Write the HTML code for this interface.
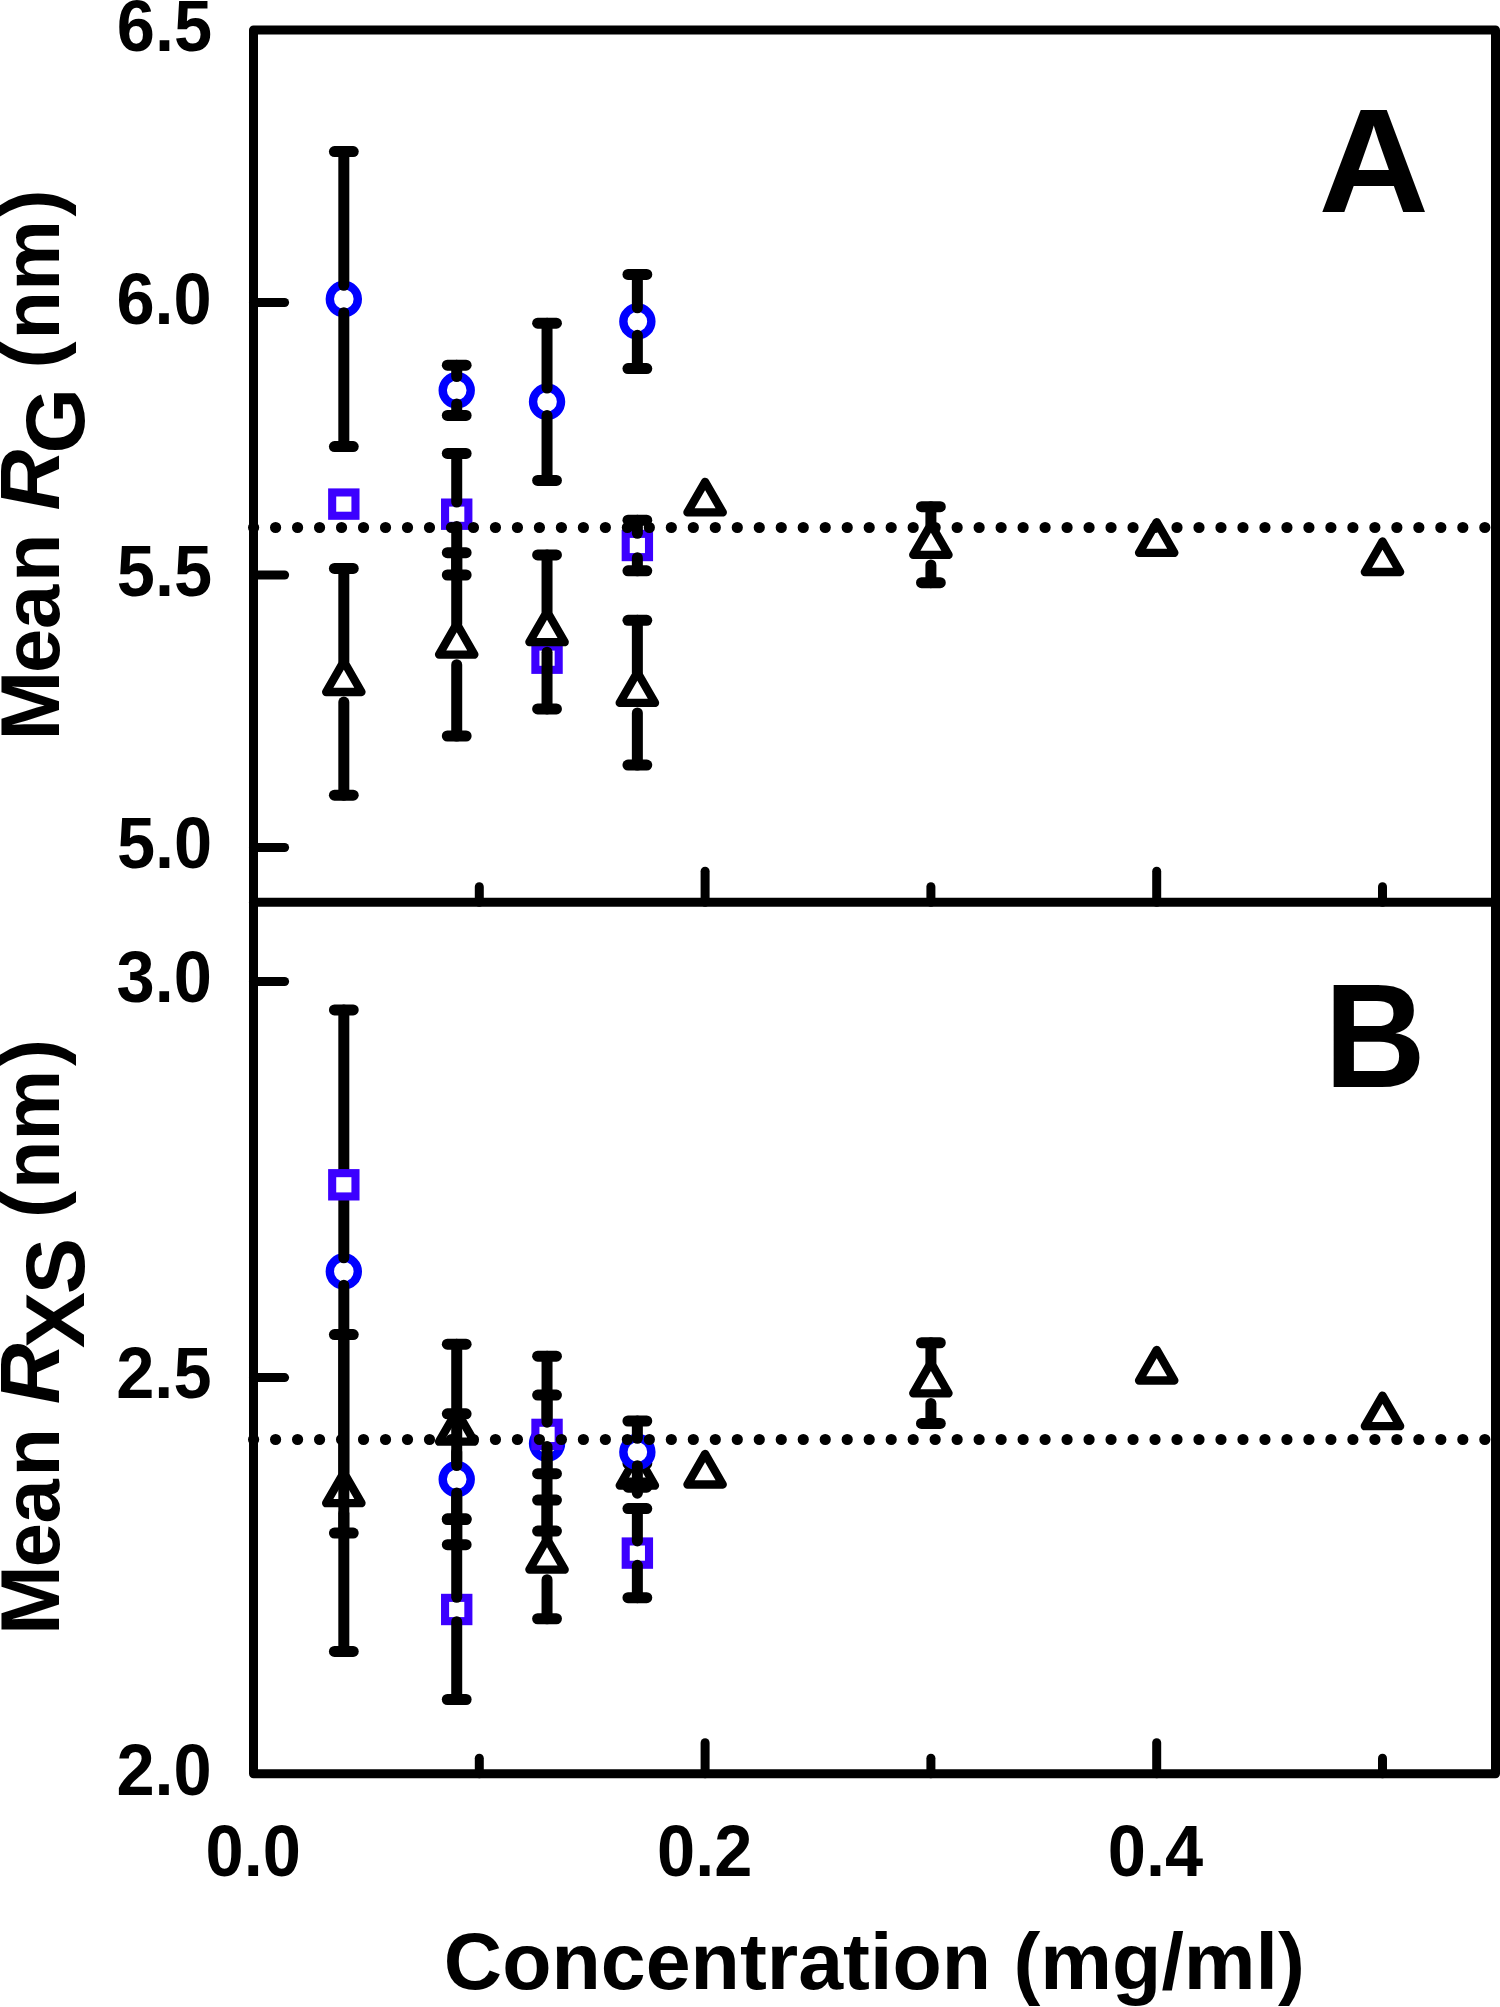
<!DOCTYPE html>
<html><head><meta charset="utf-8"><title>Mean RG and RXS vs concentration</title>
<style>html,body{margin:0;padding:0;background:#fff;} svg{display:block;}</style></head>
<body>
<svg width="1500" height="2007" viewBox="0 0 1500 2007">
<rect width="1500" height="2007" fill="#fff"/>
<circle cx="343.82" cy="299.05" r="14.0" fill="#fff" stroke="#0000FF" stroke-width="8.4"/>
<g stroke="#000" stroke-width="11.0" stroke-linecap="round"><line x1="343.82" y1="151.55" x2="343.82" y2="285.35"/><line x1="334.42" y1="151.55" x2="353.22" y2="151.55"/><line x1="343.82" y1="312.75" x2="343.82" y2="446.55"/><line x1="334.42" y1="446.55" x2="353.22" y2="446.55"/></g>
<circle cx="456.72" cy="390.30" r="14.0" fill="#fff" stroke="#0000FF" stroke-width="8.4"/>
<g stroke="#000" stroke-width="11.0" stroke-linecap="round"><line x1="456.72" y1="365.20" x2="456.72" y2="376.60"/><line x1="447.32" y1="365.20" x2="466.12" y2="365.20"/><line x1="456.72" y1="404.00" x2="456.72" y2="415.40"/><line x1="447.32" y1="415.40" x2="466.12" y2="415.40"/></g>
<circle cx="547.04" cy="401.80" r="14.0" fill="#fff" stroke="#0000FF" stroke-width="8.4"/>
<g stroke="#000" stroke-width="11.0" stroke-linecap="round"><line x1="547.04" y1="323.20" x2="547.04" y2="388.10"/><line x1="537.64" y1="323.20" x2="556.44" y2="323.20"/><line x1="547.04" y1="415.50" x2="547.04" y2="480.40"/><line x1="537.64" y1="480.40" x2="556.44" y2="480.40"/></g>
<circle cx="637.36" cy="321.50" r="14.0" fill="#fff" stroke="#0000FF" stroke-width="8.4"/>
<g stroke="#000" stroke-width="11.0" stroke-linecap="round"><line x1="637.36" y1="274.40" x2="637.36" y2="307.80"/><line x1="627.96" y1="274.40" x2="646.76" y2="274.40"/><line x1="637.36" y1="335.20" x2="637.36" y2="368.60"/><line x1="627.96" y1="368.60" x2="646.76" y2="368.60"/></g>
<rect x="332.17" y="492.45" width="23.30" height="23.30" fill="#fff" stroke="#3C00FF" stroke-width="8.1"/>
<rect x="445.07" y="502.55" width="23.30" height="23.30" fill="#fff" stroke="#3C00FF" stroke-width="8.1"/>
<g stroke="#000" stroke-width="11.0" stroke-linecap="round"><line x1="456.72" y1="453.40" x2="456.72" y2="502.00"/><line x1="447.32" y1="453.40" x2="466.12" y2="453.40"/><line x1="456.72" y1="526.40" x2="456.72" y2="575.00"/><line x1="447.32" y1="575.00" x2="466.12" y2="575.00"/></g>
<rect x="535.39" y="646.55" width="23.30" height="23.30" fill="#fff" stroke="#3C00FF" stroke-width="8.1"/>
<rect x="625.71" y="533.85" width="23.30" height="23.30" fill="#fff" stroke="#3C00FF" stroke-width="8.1"/>
<g stroke="#000" stroke-width="11.0" stroke-linecap="round"><line x1="637.36" y1="520.20" x2="637.36" y2="533.30"/><line x1="627.96" y1="520.20" x2="646.76" y2="520.20"/><line x1="637.36" y1="557.70" x2="637.36" y2="570.80"/><line x1="627.96" y1="570.80" x2="646.76" y2="570.80"/></g>
<polygon points="343.82,661.40 361.49,692.00 326.15,692.00" fill="#fff" stroke="#000" stroke-width="8.3" stroke-linejoin="round"/>
<g stroke="#000" stroke-width="11.0" stroke-linecap="round"><line x1="343.82" y1="568.40" x2="343.82" y2="661.50"/><line x1="334.42" y1="568.40" x2="353.22" y2="568.40"/><line x1="343.82" y1="702.10" x2="343.82" y2="795.20"/><line x1="334.42" y1="795.20" x2="353.22" y2="795.20"/></g>
<polygon points="456.72,623.95 474.39,654.55 439.05,654.55" fill="#fff" stroke="#000" stroke-width="8.3" stroke-linejoin="round"/>
<g stroke="#000" stroke-width="11.0" stroke-linecap="round"><line x1="456.72" y1="552.70" x2="456.72" y2="624.05"/><line x1="447.32" y1="552.70" x2="466.12" y2="552.70"/><line x1="456.72" y1="664.65" x2="456.72" y2="736.00"/><line x1="447.32" y1="736.00" x2="466.12" y2="736.00"/></g>
<polygon points="547.04,611.50 564.71,642.10 529.37,642.10" fill="#fff" stroke="#000" stroke-width="8.3" stroke-linejoin="round"/>
<g stroke="#000" stroke-width="11.0" stroke-linecap="round"><line x1="547.04" y1="554.90" x2="547.04" y2="611.60"/><line x1="537.64" y1="554.90" x2="556.44" y2="554.90"/><line x1="547.04" y1="652.20" x2="547.04" y2="708.90"/><line x1="537.64" y1="708.90" x2="556.44" y2="708.90"/></g>
<polygon points="637.36,672.30 655.03,702.90 619.69,702.90" fill="#fff" stroke="#000" stroke-width="8.3" stroke-linejoin="round"/>
<g stroke="#000" stroke-width="11.0" stroke-linecap="round"><line x1="637.36" y1="620.30" x2="637.36" y2="672.40"/><line x1="627.96" y1="620.30" x2="646.76" y2="620.30"/><line x1="637.36" y1="713.00" x2="637.36" y2="765.10"/><line x1="627.96" y1="765.10" x2="646.76" y2="765.10"/></g>
<polygon points="705.10,481.80 722.77,512.40 687.43,512.40" fill="#fff" stroke="#000" stroke-width="8.3" stroke-linejoin="round"/>
<polygon points="930.90,524.30 948.57,554.90 913.23,554.90" fill="#fff" stroke="#000" stroke-width="8.3" stroke-linejoin="round"/>
<g stroke="#000" stroke-width="11.0" stroke-linecap="round"><line x1="930.90" y1="506.70" x2="930.90" y2="524.40"/><line x1="921.50" y1="506.70" x2="940.30" y2="506.70"/><line x1="930.90" y1="565.00" x2="930.90" y2="582.70"/><line x1="921.50" y1="582.70" x2="940.30" y2="582.70"/></g>
<polygon points="1156.70,522.20 1174.37,552.80 1139.03,552.80" fill="#fff" stroke="#000" stroke-width="8.3" stroke-linejoin="round"/>
<polygon points="1382.50,541.40 1400.17,572.00 1364.83,572.00" fill="#fff" stroke="#000" stroke-width="8.3" stroke-linejoin="round"/>
<polygon points="343.82,1472.60 361.49,1503.20 326.15,1503.20" fill="#fff" stroke="#000" stroke-width="8.3" stroke-linejoin="round"/>
<g stroke="#000" stroke-width="11.0" stroke-linecap="round"><line x1="343.82" y1="1334.55" x2="343.82" y2="1472.70"/><line x1="334.42" y1="1334.55" x2="353.22" y2="1334.55"/><line x1="343.82" y1="1513.30" x2="343.82" y2="1651.45"/><line x1="334.42" y1="1651.45" x2="353.22" y2="1651.45"/></g>
<polygon points="456.72,1411.10 474.39,1441.70 439.05,1441.70" fill="#fff" stroke="#000" stroke-width="8.3" stroke-linejoin="round"/>
<g stroke="#000" stroke-width="11.0" stroke-linecap="round"><line x1="456.72" y1="1344.15" x2="456.72" y2="1411.20"/><line x1="447.32" y1="1344.15" x2="466.12" y2="1344.15"/><line x1="456.72" y1="1451.80" x2="456.72" y2="1518.85"/><line x1="447.32" y1="1518.85" x2="466.12" y2="1518.85"/></g>
<polygon points="547.04,1539.00 564.71,1569.60 529.37,1569.60" fill="#fff" stroke="#000" stroke-width="8.3" stroke-linejoin="round"/>
<g stroke="#000" stroke-width="11.0" stroke-linecap="round"><line x1="547.04" y1="1500.05" x2="547.04" y2="1539.10"/><line x1="537.64" y1="1500.05" x2="556.44" y2="1500.05"/><line x1="547.04" y1="1579.70" x2="547.04" y2="1618.75"/><line x1="537.64" y1="1618.75" x2="556.44" y2="1618.75"/></g>
<polygon points="637.36,1454.95 655.03,1485.55 619.69,1485.55" fill="#fff" stroke="#000" stroke-width="8.3" stroke-linejoin="round"/>
<g stroke="#000" stroke-width="11.0" stroke-linecap="round"><line x1="637.36" y1="1463.50" x2="637.36" y2="1457.50"/><line x1="627.96" y1="1463.50" x2="646.76" y2="1463.50"/><line x1="637.36" y1="1493.20" x2="637.36" y2="1487.20"/><line x1="627.96" y1="1487.20" x2="646.76" y2="1487.20"/></g>
<polygon points="705.10,1453.90 722.77,1484.50 687.43,1484.50" fill="#fff" stroke="#000" stroke-width="8.3" stroke-linejoin="round"/>
<polygon points="930.90,1362.70 948.57,1393.30 913.23,1393.30" fill="#fff" stroke="#000" stroke-width="8.3" stroke-linejoin="round"/>
<g stroke="#000" stroke-width="11.0" stroke-linecap="round"><line x1="930.90" y1="1342.75" x2="930.90" y2="1362.80"/><line x1="921.50" y1="1342.75" x2="940.30" y2="1342.75"/><line x1="930.90" y1="1403.40" x2="930.90" y2="1423.45"/><line x1="921.50" y1="1423.45" x2="940.30" y2="1423.45"/></g>
<polygon points="1156.70,1349.90 1174.37,1380.50 1139.03,1380.50" fill="#fff" stroke="#000" stroke-width="8.3" stroke-linejoin="round"/>
<polygon points="1382.50,1395.60 1400.17,1426.20 1364.83,1426.20" fill="#fff" stroke="#000" stroke-width="8.3" stroke-linejoin="round"/>
<circle cx="343.82" cy="1271.50" r="14.0" fill="#fff" stroke="#0000FF" stroke-width="8.4"/>
<g stroke="#000" stroke-width="11.0" stroke-linecap="round"><line x1="343.82" y1="1009.90" x2="343.82" y2="1257.80"/><line x1="334.42" y1="1009.90" x2="353.22" y2="1009.90"/><line x1="343.82" y1="1285.20" x2="343.82" y2="1533.10"/><line x1="334.42" y1="1533.10" x2="353.22" y2="1533.10"/></g>
<circle cx="456.72" cy="1479.25" r="14.0" fill="#fff" stroke="#0000FF" stroke-width="8.4"/>
<g stroke="#000" stroke-width="11.0" stroke-linecap="round"><line x1="456.72" y1="1413.80" x2="456.72" y2="1465.55"/><line x1="447.32" y1="1413.80" x2="466.12" y2="1413.80"/><line x1="456.72" y1="1492.95" x2="456.72" y2="1544.70"/><line x1="447.32" y1="1544.70" x2="466.12" y2="1544.70"/></g>
<circle cx="547.04" cy="1443.60" r="14.0" fill="#fff" stroke="#0000FF" stroke-width="8.4"/>
<g stroke="#000" stroke-width="11.0" stroke-linecap="round"><line x1="547.04" y1="1356.15" x2="547.04" y2="1429.90"/><line x1="537.64" y1="1356.15" x2="556.44" y2="1356.15"/><line x1="547.04" y1="1457.30" x2="547.04" y2="1531.05"/><line x1="537.64" y1="1531.05" x2="556.44" y2="1531.05"/></g>
<circle cx="637.36" cy="1452.00" r="14.0" fill="#fff" stroke="#0000FF" stroke-width="8.4"/>
<g stroke="#000" stroke-width="11.0" stroke-linecap="round"><line x1="637.36" y1="1421.00" x2="637.36" y2="1438.30"/><line x1="627.96" y1="1421.00" x2="646.76" y2="1421.00"/><line x1="637.36" y1="1465.70" x2="637.36" y2="1483.00"/><line x1="627.96" y1="1483.00" x2="646.76" y2="1483.00"/></g>
<rect x="332.17" y="1173.15" width="23.30" height="23.30" fill="#fff" stroke="#3C00FF" stroke-width="8.1"/>
<rect x="445.07" y="1597.85" width="23.30" height="23.30" fill="#fff" stroke="#3C00FF" stroke-width="8.1"/>
<g stroke="#000" stroke-width="11.0" stroke-linecap="round"><line x1="456.72" y1="1519.50" x2="456.72" y2="1597.30"/><line x1="447.32" y1="1519.50" x2="466.12" y2="1519.50"/><line x1="456.72" y1="1621.70" x2="456.72" y2="1699.50"/><line x1="447.32" y1="1699.50" x2="466.12" y2="1699.50"/></g>
<rect x="535.39" y="1422.75" width="23.30" height="23.30" fill="#fff" stroke="#3C00FF" stroke-width="8.1"/>
<g stroke="#000" stroke-width="11.0" stroke-linecap="round"><line x1="547.04" y1="1395.10" x2="547.04" y2="1422.20"/><line x1="537.64" y1="1395.10" x2="556.44" y2="1395.10"/><line x1="547.04" y1="1446.60" x2="547.04" y2="1473.70"/><line x1="537.64" y1="1473.70" x2="556.44" y2="1473.70"/></g>
<rect x="625.71" y="1541.45" width="23.30" height="23.30" fill="#fff" stroke="#3C00FF" stroke-width="8.1"/>
<g stroke="#000" stroke-width="11.0" stroke-linecap="round"><line x1="637.36" y1="1508.55" x2="637.36" y2="1540.90"/><line x1="627.96" y1="1508.55" x2="646.76" y2="1508.55"/><line x1="637.36" y1="1565.30" x2="637.36" y2="1597.65"/><line x1="627.96" y1="1597.65" x2="646.76" y2="1597.65"/></g>
<line x1="253.6" y1="527.5" x2="1496" y2="527.5" stroke="#000" stroke-width="11.2" stroke-linecap="round" stroke-dasharray="0 21.986"/>
<line x1="253.6" y1="1439.5" x2="1496" y2="1439.5" stroke="#000" stroke-width="11.2" stroke-linecap="round" stroke-dasharray="0 21.986"/>
<g stroke="#000" stroke-width="9.0" stroke-linecap="round" stroke-linejoin="round" fill="none"><path d="M253.5,29.9 H1495.5 V1773.7 H253.5 Z" fill="none"/>
<path d="M253.5,902.2 H1495.5" fill="none"/>
<path d="M253.5,302.5 H284.6"/>
<path d="M253.5,575.0 H284.6"/>
<path d="M253.5,847.5 H284.6"/>
<path d="M253.5,981.5 H284.6"/>
<path d="M253.5,1377.6 H284.6"/>
<path d="M479.30,902.2 V886.70"/>
<path d="M479.30,1773.7 V1758.20"/>
<path d="M705.10,902.2 V871.20"/>
<path d="M705.10,1773.7 V1742.70"/>
<path d="M930.90,902.2 V886.70"/>
<path d="M930.90,1773.7 V1758.20"/>
<path d="M1156.70,902.2 V871.20"/>
<path d="M1156.70,1773.7 V1742.70"/>
<path d="M1382.50,902.2 V886.70"/>
<path d="M1382.50,1773.7 V1758.20"/></g>
<g font-family="&quot;Liberation Sans&quot;, Arial, sans-serif" font-weight="bold" fill="#000"><text transform="translate(116.83,51.30) scale(0.942,1)" font-size="72.8">6.5</text>
<text transform="translate(116.42,323.50) scale(0.942,1)" font-size="72.8">6.0</text>
<text transform="translate(116.83,595.80) scale(0.942,1)" font-size="72.8">5.5</text>
<text transform="translate(116.92,868.20) scale(0.942,1)" font-size="72.8">5.0</text>
<text transform="translate(116.52,1001.70) scale(0.942,1)" font-size="72.8">3.0</text>
<text transform="translate(116.23,1398.30) scale(0.942,1)" font-size="72.8">2.5</text>
<text transform="translate(116.42,1794.50) scale(0.942,1)" font-size="72.8">2.0</text>
<text transform="translate(205.54,1875.80) scale(0.942,1)" font-size="72.8">0.0</text>
<text transform="translate(657.04,1875.80) scale(0.942,1)" font-size="72.8">0.2</text>
<text transform="translate(1107.82,1875.80) scale(0.942,1)" font-size="72.8">0.4</text>
<text transform="translate(1318.41,212.49) scale(1.0273,1)" font-size="148.97">A</text>
<text transform="translate(1324.15,1086.80) scale(0.9534,1)" font-size="147.54">B</text>
<text transform="translate(443.87,1989) scale(1.0029,1)" font-size="80.5">Concentration (mg/ml)</text>
<text transform="translate(58.9,740.0) rotate(-90)"><tspan x="-0.85" y="0" font-size="84.28">M</tspan><tspan x="67.10 110.93 157.91 206.48" y="0" font-size="79.5">ean </tspan><tspan x="229.62" y="0" font-size="84.28" font-style="italic">R</tspan><tspan x="286.41" y="25.0" font-size="84.28">G</tspan><tspan x="349.13 371.64" y="0" font-size="81.0"> (</tspan><tspan x="400.61 449.15" y="0" font-size="79.5">nm</tspan><tspan x="523.64" y="0" font-size="81.0">)</tspan></text>
<text transform="translate(58.9,1640.0) rotate(-90)"><tspan x="4.85" y="0" font-size="84.28">M</tspan><tspan x="72.80 116.63 163.61 212.18" y="0" font-size="79.5">ean </tspan><tspan x="235.77" y="0" font-size="84.28" font-style="italic">R</tspan><tspan x="291.89 345.68" y="25.0" font-size="84.28">XS</tspan><tspan x="399.58 422.09" y="0" font-size="81.0"> (</tspan><tspan x="451.06 499.60" y="0" font-size="79.5">nm</tspan><tspan x="574.09" y="0" font-size="81.0">)</tspan></text></g>
</svg>
</body></html>
